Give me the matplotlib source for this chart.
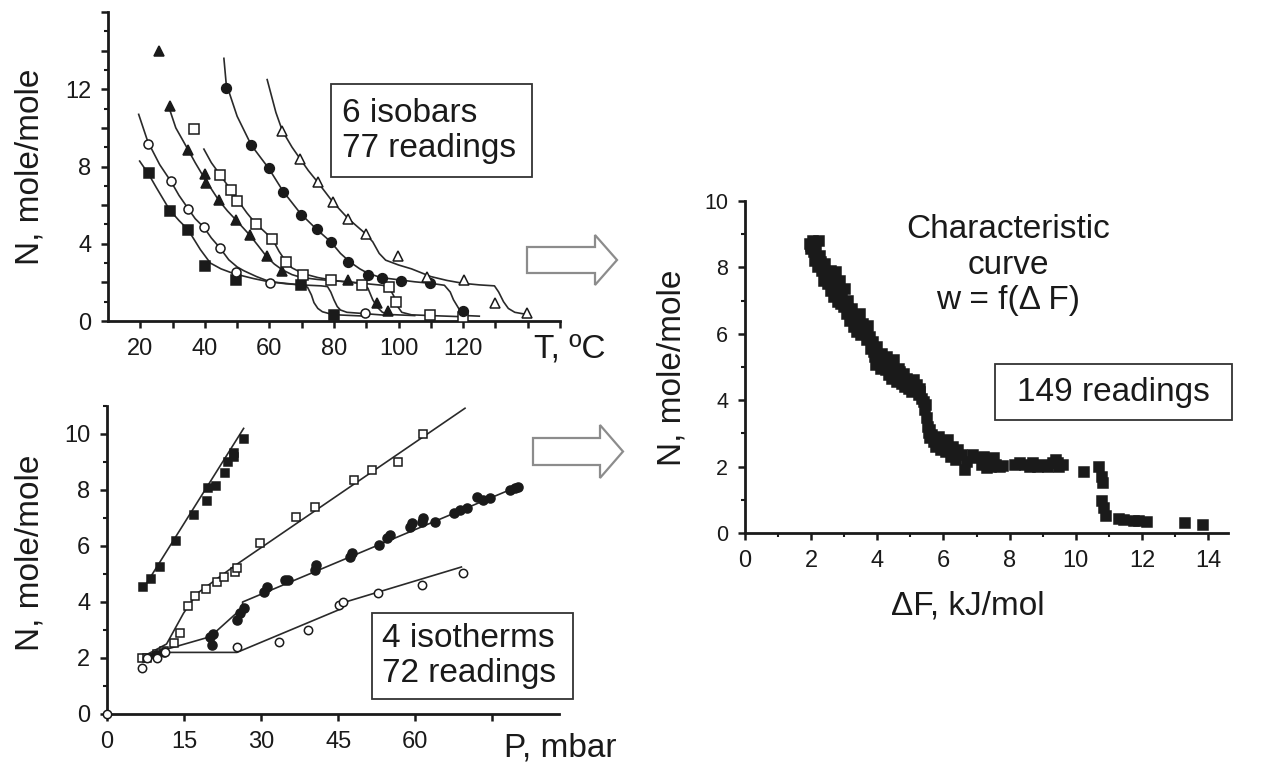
# Isobars, isotherms and the characteristic curve (three panels)

import matplotlib.pyplot as plt
from matplotlib.patches import Polygon, Rectangle
from matplotlib.ticker import MultipleLocator

plt.rcParams['font.family'] = ['Liberation Sans', 'DejaVu Sans']

# ---- isobars: N vs T (readings + fitted curves) ----
sq_T = [22.6, 29.1, 34.7, 39.9, 49.5, 69.7, 80.0]
sq_N = [7.67, 5.68, 4.73, 2.87, 2.13, 1.87, 0.31]
sq_fit_T = [19.8, 22.6, 25, 29.1, 32, 34.7, 38.6, 41.7, 45, 49, 55, 59.3, 65, 69.7, 71.8, 73, 73.8, 75, 76.4, 79, 82, 90]
sq_fit_N = [8.28, 7.6, 6.9, 5.75, 5.2, 4.75, 3.7, 3.0, 2.7, 2.45, 2.2, 2.05, 1.95, 1.87, 1.75, 1.35, 0.95, 0.65, 0.48, 0.36, 0.31, 0.25]

oc_T = [22.3, 29.6, 34.7, 39.7, 44.6, 49.5, 60.2, 89.6]
oc_N = [9.19, 7.24, 5.8, 4.87, 3.78, 2.56, 1.99, 0.4]
oc_fit_T = [19.5, 22.3, 26, 29.6, 32, 34.7, 37, 39.7, 42, 44.6, 47.4, 50, 52.1, 56, 60.2, 65, 69.7, 76, 78, 79, 80, 81, 82, 84, 89.6, 95]
oc_fit_N = [10.7, 9.3, 8.1, 7.2, 6.5, 5.85, 5.3, 4.85, 4.3, 3.8, 3.17, 2.8, 2.6, 2.3, 2.03, 1.93, 1.87, 1.82, 1.78, 1.5, 1.09, 0.75, 0.57, 0.45, 0.38, 0.31]

tf_T = [25.7, 29.1, 34.7, 40.0, 40.2, 44.3, 49.8, 53.9, 59.1, 64.0, 84.4, 93.3, 96.7]
tf_N = [14.0, 11.13, 8.88, 7.6, 7.15, 6.25, 5.25, 4.47, 3.34, 2.61, 2.1, 0.93, 0.52]
tf_fit_T = [28.8, 31, 34.7, 37, 40.2, 44.3, 47, 49.8, 53.9, 56.5, 59.1, 61.5, 64, 67, 70, 75, 80, 85, 89, 90.5, 92, 93.5, 95, 98, 105]
tf_fit_N = [11.1, 10.0, 8.9, 8.2, 7.3, 6.25, 5.7, 5.2, 4.45, 3.9, 3.34, 2.95, 2.65, 2.4, 2.25, 2.15, 2.08, 2.02, 1.95, 1.7, 1.1, 0.7, 0.45, 0.33, 0.28]

os_T = [36.6, 44.8, 48.2, 50.0, 55.7, 60.9, 65.0, 70.5, 79.0, 88.8, 97.1, 99.2, 109.8, 119.9]
os_N = [9.92, 7.58, 6.8, 6.2, 5.0, 4.27, 3.04, 2.39, 2.13, 1.87, 1.75, 1.0, 0.31, 0.23]
os_fit_T = [39.7, 42, 44.8, 48.2, 50, 53, 55.7, 58, 60.9, 63, 65, 67, 70.5, 75, 80, 85, 90, 95, 97, 98.5, 99.5, 101, 104, 110, 120]
os_fit_N = [8.9, 8.2, 7.55, 6.75, 6.3, 5.6, 5.05, 4.7, 4.25, 3.6, 3.1, 2.75, 2.45, 2.25, 2.1, 2.0, 1.93, 1.85, 1.75, 1.3, 0.8, 0.45, 0.32, 0.28, 0.22]

fc_T = [46.6, 54.4, 59.8, 64.3, 69.7, 74.6, 79.0, 84.2, 90.4, 95.0, 100.7, 109.8, 119.9]
fc_N = [12.09, 9.11, 7.9, 6.67, 5.51, 4.76, 4.07, 3.08, 2.39, 2.22, 2.09, 1.96, 0.54]
fc_fit_T = [45.9, 46.6, 50, 54.4, 59.8, 64.3, 69.7, 74.6, 79, 82, 85, 88, 90.4, 94.5, 100.7, 105, 110, 114.2, 116, 117, 118.3, 119.5, 121, 125]
fc_fit_N = [13.6, 12.3, 10.6, 9.1, 7.9, 6.7, 5.55, 4.75, 4.1, 3.5, 3.05, 2.7, 2.48, 2.25, 2.12, 2.03, 1.95, 1.85, 1.5, 1.1, 0.74, 0.4, 0.28, 0.25]

ot_T = [64.0, 69.5, 74.9, 79.7, 84.4, 89.9, 99.7, 108.9, 120.3, 129.9, 139.9]
ot_N = [9.83, 8.4, 7.19, 6.15, 5.28, 4.52, 3.34, 2.3, 2.14, 0.93, 0.4]
ot_fit_T = [59.3, 62, 64, 67, 69.5, 72, 74.9, 79.7, 84.4, 89.9, 92, 94, 96, 100, 104, 110, 115, 120, 125, 129.7, 131, 132.5, 134, 136, 140]
ot_fit_N = [12.5, 10.8, 9.85, 9.0, 8.4, 7.8, 7.2, 6.15, 5.3, 4.5, 4.1, 3.5, 3.15, 2.9, 2.7, 2.3, 2.1, 1.95, 1.87, 1.82, 1.5, 1.0, 0.65, 0.45, 0.33]

# ---- isotherms: N vs P ----
bs_P = [7.1, 8.5, 10.3, 13.4, 17.0, 19.4, 19.6, 21.2, 23.0, 23.6, 24.7, 24.8, 26.7]
bs_N = [4.52, 4.81, 5.24, 6.18, 7.11, 7.62, 8.06, 8.15, 8.6, 9.01, 9.19, 9.31, 9.81]
bs_fit_P = [7.3, 26.6]
bs_fit_N = [4.55, 10.2]

bo_P = [6.75, 7.7, 9.7, 11.0, 13.1, 14.2, 15.7, 17.1, 19.3, 21.4, 22.8, 24.9, 25.3, 29.7, 36.8, 40.5, 48.1, 51.6, 56.6, 61.5, 69.7]
bo_N = [1.99, 2.01, 2.14, 2.26, 2.55, 2.9, 3.86, 4.21, 4.45, 4.71, 4.9, 5.08, 5.2, 6.1, 7.05, 7.4, 8.36, 8.71, 8.99, 10.0, 11.24]
bo_fit_P = [6.5, 11.6, 14.9, 17.5, 24.9, 69.7]
bo_fit_N = [2.0, 2.5, 3.6, 4.3, 5.3, 10.92]

bf_P = [9.5, 11.0, 20.1, 20.4, 20.7, 25.3, 25.9, 26.6, 30.5, 31.1, 34.7, 35.3, 40.5, 40.7, 47.3, 47.7, 52.9, 54.5,
        55.1, 59.0, 59.4, 61.3, 61.6, 63.9, 67.5, 68.8, 70.1, 72.0, 73.3, 74.6, 78.5, 79.5, 80.1]
bf_N = [2.1, 2.2, 2.76, 2.46, 2.86, 3.36, 3.6, 3.77, 4.37, 4.55, 4.79, 4.8, 5.14, 5.32, 5.62, 5.74, 6.04, 6.27,
        6.39, 6.69, 6.81, 6.87, 6.99, 6.87, 7.17, 7.29, 7.35, 7.76, 7.64, 7.7, 8.0, 8.06, 8.1]
bf_fit_P = [6.4, 20.1, 26.4, 26.4, 80.3]
bf_fit_N = [2.04, 2.76, 3.8, 4.0, 8.15]

bc_P = [0.0, 6.75, 7.7, 9.7, 11.3, 25.3, 33.4, 39.2, 45.1, 45.9, 52.7, 61.3, 69.3]
bc_N = [0.0, 1.63, 2.0, 2.0, 2.2, 2.4, 2.58, 3.0, 3.89, 4.01, 4.31, 4.61, 5.02]
bc_fit_P = [6.5, 12, 25.3, 45.5, 45.5, 69.0]
bc_fit_N = [2.05, 2.2, 2.2, 3.75, 3.95, 5.25]

# ---- characteristic curve: N vs dF (149 readings) ----
cf_dF = [1.95, 1.98, 2.0, 2.05, 2.08, 2.12, 2.15, 2.2, 2.25, 2.28, 2.3, 2.32, 2.38, 2.42, 2.45, 2.5, 2.55, 2.6,
         2.6, 2.65, 2.7, 2.75, 2.78, 2.82, 2.88, 2.9, 2.92, 2.98, 3.02, 3.08, 3.1, 3.12, 3.18, 3.22, 3.28, 3.3,
         3.32, 3.38, 3.42, 3.48, 3.5, 3.52, 3.58, 3.62, 3.68, 3.7, 3.72, 3.78, 3.82, 3.88, 3.9, 3.92, 3.96, 4.0,
         4.05, 4.1, 4.1, 4.15, 4.2, 4.25, 4.3, 4.3, 4.35, 4.4, 4.45, 4.5, 4.5, 4.55, 4.6, 4.65, 4.7, 4.7, 4.75,
         4.8, 4.85, 4.9, 4.9, 4.95, 5.0, 5.05, 5.1, 5.1, 5.15, 5.2, 5.25, 5.3, 5.3, 5.35, 5.42, 5.45, 5.48, 5.5,
         5.52, 5.55, 5.58, 5.6, 5.65, 5.7, 5.78, 5.85, 5.92, 6.0, 6.08, 6.1, 6.15, 6.22, 6.3, 6.38, 6.4, 6.45,
         6.55, 6.65, 6.72, 6.9, 7.02, 7.15, 7.22, 7.3, 7.38, 7.4, 7.45, 7.52, 7.6, 7.7, 7.8, 8.15, 8.3, 8.45,
         8.6, 8.7, 8.85, 9.0, 9.15, 9.3, 9.4, 9.45, 9.5, 9.6, 10.25, 10.7, 10.78, 10.82, 10.8, 10.85, 10.92,
         11.3, 11.45, 11.75, 11.9, 12.15, 13.3, 13.85]
cf_N = [8.7, 8.55, 8.65, 8.8, 8.45, 8.2, 8.6, 8.0, 8.8, 8.35, 8.15, 7.9, 7.6, 8.1, 7.8, 7.5, 7.7, 7.3,
        7.9, 7.55, 7.1, 7.85, 7.4, 6.95, 7.6, 6.9, 7.2, 6.8, 7.35, 6.6, 6.75, 7.0, 6.4, 6.75, 6.2, 6.45,
        6.55, 6.05, 6.4, 6.6, 6.25, 5.95, 6.3, 6.1, 5.8, 6.0, 6.25, 5.9, 5.55, 5.75, 5.45, 5.3, 5.05, 5.6,
        5.2, 4.95, 5.3, 5.4, 5.1, 4.9, 5.3, 5.0, 4.75, 5.05, 4.65, 5.2, 4.7, 4.85, 4.55, 4.95, 4.7, 4.85, 4.5,
        4.8, 4.4, 4.65, 4.5, 4.35, 4.55, 4.25, 4.6, 4.4, 4.3, 4.45, 4.15, 4.35, 4.25, 4.05, 3.95, 3.7, 3.85, 3.45,
        3.2, 3.0, 3.1, 2.85, 2.95, 2.75, 2.6, 2.9, 2.5, 2.7, 2.45, 2.6, 2.8, 2.3, 2.6, 2.2, 2.45, 2.5,
        2.35, 1.9, 2.15, 2.35, 2.25, 2.05, 2.3, 1.95, 2.15, 2.1, 2.0, 2.25, 2.05, 1.98, 2.02, 2.05, 2.1, 2.05,
        2.0, 2.1, 2.0, 2.05, 1.98, 2.1, 2.2, 2.1, 2.0, 2.05, 1.85, 2.0, 1.7, 1.5, 0.95, 0.75, 0.5,
        0.42, 0.38, 0.36, 0.35, 0.34, 0.3, 0.25]

W, H = 1274, 768
ink = '#1a1a1a'
fig = plt.figure(figsize=(W / 100, H / 100), dpi=100)


def axes_px(left, top, right, bottom):
    # axes placed by pixel edges of the 1274x768 canvas
    return fig.add_axes([left / W, 1 - bottom / H, (right - left) / W, (bottom - top) / H])


def style(ax, fs):
    for s in ['top', 'right']:
        ax.spines[s].set_visible(False)
    for s in ['left', 'bottom']:
        ax.spines[s].set_linewidth(2.0)
        ax.spines[s].set_color(ink)
    ax.tick_params(which='major', direction='out', length=5, width=1.8, labelsize=fs, pad=7,
                   color=ink, labelcolor=ink)
    ax.tick_params(which='minor', direction='out', length=3, width=1.5, color=ink)


def fit(ax, x, y):
    ax.plot(x, y, color='#2a2a2a', lw=1.2, zorder=2)


def pts(ax, x, y, marker, filled, ms, clip=True):
    ax.plot(x, y, ls='none', marker=marker, ms=ms, mfc=ink if filled else 'white', mec=ink, mew=1.1,
            zorder=3, clip_on=clip)


# top-left: isobars
ax1 = axes_px(108, 12, 560, 321)
for fx, fy in [(sq_fit_T, sq_fit_N), (oc_fit_T, oc_fit_N), (tf_fit_T, tf_fit_N),
               (os_fit_T, os_fit_N), (fc_fit_T, fc_fit_N), (ot_fit_T, ot_fit_N)]:
    fit(ax1, fx, fy)
pts(ax1, sq_T, sq_N, 's', True, 6.5)
pts(ax1, oc_T, oc_N, 'o', False, 6.5)
pts(ax1, tf_T, tf_N, '^', True, 7)
pts(ax1, os_T, os_N, 's', False, 6.5)
pts(ax1, fc_T, fc_N, 'o', True, 7)
pts(ax1, ot_T, ot_N, '^', False, 7)
ax1.set_xlim(10, 150)
ax1.set_ylim(0, 16)
ax1.set_xticks(range(20, 151, 10))
ax1.set_xticklabels([str(t) if t <= 120 and t % 20 == 0 else '' for t in range(20, 151, 10)])
ax1.set_yticks(range(0, 17, 2))
ax1.set_yticklabels([str(v) if v % 4 == 0 and v <= 12 else '' for v in range(0, 17, 2)])
ax1.yaxis.set_minor_locator(MultipleLocator(1))
style(ax1, 17)

# bottom-left: isotherms
ax2 = axes_px(107, 406, 559, 714)
for fx, fy in [(bs_fit_P, bs_fit_N), (bo_fit_P, bo_fit_N), (bf_fit_P, bf_fit_N), (bc_fit_P, bc_fit_N)]:
    fit(ax2, fx, fy)
pts(ax2, bs_P, bs_N, 's', True, 6)
pts(ax2, bo_P, bo_N, 's', False, 5.8)
pts(ax2, bf_P, bf_N, 'o', True, 6.5)
pts(ax2, bc_P, bc_N, 'o', False, 6, clip=False)
ax2.set_xlim(0, 88)
ax2.set_ylim(0, 11)
ax2.set_xticks([0, 15, 30, 45, 60, 75])
ax2.set_xticklabels(['0', '15', '30', '45', '60', ''])
ax2.set_yticks(range(0, 11, 2))
ax2.yaxis.set_minor_locator(MultipleLocator(1))
style(ax2, 17)

# right: characteristic curve
ax3 = axes_px(745, 201, 1228, 533)
pts(ax3, cf_dF, cf_N, 's', True, 7.5)
ax3.set_xlim(0, 14.6)
ax3.set_ylim(0, 10)
ax3.set_xticks(range(0, 15, 2))
ax3.xaxis.set_minor_locator(MultipleLocator(1))
ax3.set_yticks(range(0, 11, 2))
ax3.yaxis.set_minor_locator(MultipleLocator(1))
style(ax3, 17)
ax3.tick_params(axis='y', labelsize=15.5)

# overlay in canvas pixels for labels, boxes and arrows
ov = fig.add_axes([0, 0, 1, 1])
ov.set_xlim(0, W)
ov.set_ylim(H, 0)
ov.axis('off')
ov.patch.set_visible(False)

lab = dict(fontsize=24, color=ink, ha='center', va='center')
ov.text(30, 167, 'N, mole/mole', rotation=90, **lab)
ov.text(30, 553, 'N, mole/mole', rotation=90, **lab)
ov.text(672, 368, 'N, mole/mole', rotation=90, **lab)
ov.text(570, 349, 'T, ºC', **lab)
ov.text(560, 748, 'P, mbar', **lab)
ov.text(968, 606, 'ΔF, kJ/mol', **lab)
ov.text(1008, 265, 'Characteristic\ncurve\nw = f(Δ F)', linespacing=1.2, **lab)

for (x0, y0, x1, y1) in [(331, 84, 532, 177), (372, 613, 573, 699), (995, 364, 1232, 420)]:
    ov.add_patch(Rectangle((x0, y0), x1 - x0, y1 - y0, fc='white', ec='#333333', lw=1.3, zorder=4))
box = dict(fontsize=24, color=ink, ha='left', va='center', linespacing=1.2, zorder=5)
ov.text(342, 131, '6 isobars\n77 readings', **box)
ov.text(382, 656, '4 isotherms\n72 readings', **box)
ov.text(1113, 392, '149 readings', fontsize=24, color=ink, ha='center', va='center', zorder=5)

# hollow block arrows pointing to the right panel
for (x0, ys0, ys1, xh, yh0, yh1, xt) in [(527, 247, 273, 595, 235, 285, 617),
                                          (533, 438, 465, 600, 425, 478, 623)]:
    verts = [(x0, ys0), (xh, ys0), (xh, yh0), (xt, (yh0 + yh1) / 2), (xh, yh1), (xh, ys1), (x0, ys1)]
    ov.add_patch(Polygon(verts, closed=True, fc='white', ec='#8c8c8c', lw=1.6, zorder=4))

plt.savefig('out.png', dpi=100)
